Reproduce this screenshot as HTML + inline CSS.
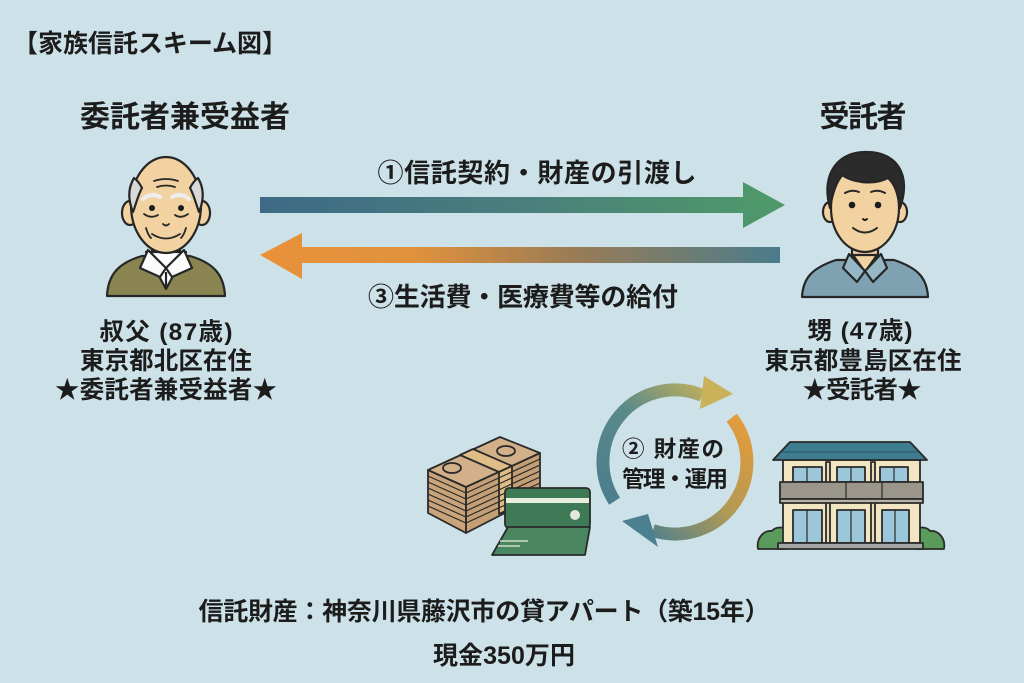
<!DOCTYPE html>
<html><head><meta charset="utf-8"><style>
html,body{margin:0;padding:0;background:#cde2e8;}
svg{display:block;}
text{font-family:"Liberation Sans","Noto Sans CJK JP",sans-serif;font-weight:bold;fill:#1c1c1c;}
</style></head><body>
<svg width="1024" height="683" viewBox="0 0 1024 683" xmlns="http://www.w3.org/2000/svg">
<defs>
<linearGradient id="a1" x1="260" y1="0" x2="785" y2="0" gradientUnits="userSpaceOnUse">
<stop offset="0" stop-color="#3d6a86"/><stop offset="0.5" stop-color="#4a7f7c"/><stop offset="1" stop-color="#4f9a68"/></linearGradient>
<linearGradient id="a2" x1="260" y1="0" x2="780" y2="0" gradientUnits="userSpaceOnUse">
<stop offset="0" stop-color="#e8923a"/><stop offset="0.3" stop-color="#e0913c"/><stop offset="0.6" stop-color="#9a7c55"/><stop offset="1" stop-color="#4a7c8c"/></linearGradient>
<linearGradient id="c1" x1="612" y1="505" x2="720" y2="390" gradientUnits="userSpaceOnUse">
<stop offset="0" stop-color="#4c7d8e"/><stop offset="0.5" stop-color="#5a8a88"/><stop offset="1" stop-color="#c9b25a"/></linearGradient>
<linearGradient id="c2" x1="735" y1="415" x2="630" y2="525" gradientUnits="userSpaceOnUse">
<stop offset="0" stop-color="#e39b3c"/><stop offset="0.5" stop-color="#b09a55"/><stop offset="1" stop-color="#4c7f8f"/></linearGradient>
</defs>
<rect width="1024" height="683" fill="#cde2e8"/>

<!-- title -->
<text x="13" y="52" font-size="25" textLength="274">【家族信託スキーム図】</text>
<text x="185" y="127" font-size="30" text-anchor="middle" textLength="210">委託者兼受益者</text>
<text x="863" y="127" font-size="30" text-anchor="middle" textLength="87">受託者</text>

<!-- arrows -->
<text x="537" y="182" font-size="26" text-anchor="middle" textLength="319">①信託契約・財産の引渡し</text>
<path d="M260,197 L743,197 L743,182 L785,205 L743,228 L743,213 L260,213 Z" fill="url(#a1)"/>
<path d="M780,247 L302,247 L302,233 L260,255 L302,279 L302,263 L780,263 Z" fill="url(#a2)"/>
<text x="523" y="306" font-size="26" text-anchor="middle" textLength="310">③生活費・医療費等の給付</text>

<!-- old man -->
<g stroke="#262626" stroke-width="2.2" stroke-linejoin="round">
<path d="M107,296 C108,275 118,263 142,256 L190,256 C214,263 224,275 225,296 Z" fill="#8a8450"/>
<rect x="152" y="236" width="28" height="24" fill="#f2d2a0"/>
<polygon points="146,252 186,252 166,289" fill="#ffffff"/>
<polygon points="148,250 140,268 160,277 166,268" fill="#fbfbfb"/>
<polygon points="184,250 192,268 172,277 166,268" fill="#fbfbfb"/>
<line x1="166" y1="272" x2="166" y2="289"/>
<ellipse cx="130" cy="213" rx="8" ry="12" fill="#f2d2a0"/>
<ellipse cx="202" cy="213" rx="8" ry="12" fill="#f2d2a0"/>
<ellipse cx="166" cy="205" rx="35" ry="48" fill="#f2d2a0"/>
<path d="M134,178 C128,188 128,200 133,212 C136,204 138,195 142,188 C140,184 137,180 134,178 Z" fill="#d8d8d8"/>
<path d="M198,178 C204,188 204,200 199,212 C196,204 194,195 190,188 C192,184 195,180 198,178 Z" fill="#d8d8d8"/>
</g>
<g stroke="#262626" stroke-width="1.8" fill="none" stroke-linecap="round">
<path d="M154,181 Q166,177 178,181"/>
<path d="M157,187 Q166,184 175,187"/>
<path d="M143,199 Q151,192 160,197" stroke="#eee" stroke-width="4"/>
<path d="M172,197 Q181,192 189,199" stroke="#eee" stroke-width="4"/>
<path d="M144,214 Q151,219 158,215"/>
<path d="M175,215 Q181,219 188,214"/>
<path d="M163,224 Q166,227 169,224"/>
<path d="M152,234 Q166,243 180,234"/>
<path d="M146,228 Q148,235 151,238"/>
<path d="M186,228 Q184,235 181,238"/>
</g>
<circle cx="152" cy="208" r="3" fill="#1c1c1c"/>
<circle cx="181" cy="208" r="3" fill="#1c1c1c"/>

<!-- young man -->
<g stroke="#262626" stroke-width="2.2" stroke-linejoin="round">
<path d="M802,297 C803,278 812,268 836,260 L894,260 C918,268 927,278 928,297 Z" fill="#7fa2b2"/>
<rect x="852" y="238" width="26" height="26" fill="#f2d2a0"/>
<polygon points="853,255 865,272 877,255" fill="#f2d2a0"/>
<polygon points="849,254 843,268 857,282 865,271" fill="#96b7c5"/>
<polygon points="881,254 887,268 873,282 865,271" fill="#96b7c5"/>
<ellipse cx="830" cy="212" rx="7" ry="10" fill="#f2d2a0"/>
<ellipse cx="900" cy="212" rx="7" ry="10" fill="#f2d2a0"/>
<ellipse cx="865" cy="208" rx="34" ry="44" fill="#f2d2a0"/>
<path d="M830,208 C820,172 840,151 867,152 C896,152 912,174 900,208 C898,194 895,184 888,178 C872,186 852,182 842,175 C835,184 832,196 830,208 Z" fill="#2b2b2b"/>
</g>
<g stroke="#262626" stroke-width="2" fill="none" stroke-linecap="round">
<path d="M845,193 Q852,189 859,192"/>
<path d="M871,192 Q878,189 885,193"/>
<path d="M863,219 Q865,221 867,219"/>
<path d="M853,228 Q865,237 877,228"/>
</g>
<circle cx="852" cy="205" r="3.3" fill="#1c1c1c"/>
<circle cx="878" cy="205" r="3.3" fill="#1c1c1c"/>

<!-- info texts -->
<text x="166" y="340" font-size="24.5" text-anchor="middle" textLength="133">叔父 (87歳)</text>
<text x="166" y="369" font-size="24.5" text-anchor="middle" textLength="172">東京都北区在住</text>
<text x="166" y="398" font-size="24.5" text-anchor="middle" textLength="222">★委託者兼受益者★</text>
<text x="860" y="339" font-size="24.5" text-anchor="middle" textLength="105">甥 (47歳)</text>
<text x="863" y="369" font-size="24.5" text-anchor="middle" textLength="197">東京都豊島区在住</text>
<text x="862" y="398" font-size="24.5" text-anchor="middle" textLength="119">★受託者★</text>

<!-- cycle -->
<path d="M614.6,501.2 A72,72 0 0 1 702,395.2" fill="none" stroke="url(#c1)" stroke-width="13"/>
<polygon points="704,376 700,409 733,394" fill="#c9b25a"/>
<path d="M731.7,417.7 A72,72 0 0 1 652.8,530.5" fill="none" stroke="url(#c2)" stroke-width="13"/>
<polygon points="648,514 658,547 622,521" fill="#4c7f8f"/>
<text x="673" y="457" font-size="22.5" text-anchor="middle" textLength="102">② 財産の</text>
<text x="675" y="487" font-size="22.5" text-anchor="middle" textLength="106">管理・運用</text>

<!-- money stack -->
<g stroke="#2a2a2a" stroke-width="1.8" stroke-linejoin="round">
<polygon points="428,470 466,487 466,533 428,513" fill="#c9a47a"/>
<polygon points="466,487 540,453 540,495 466,533" fill="#c49f75"/>
<polygon points="428,470 500,437 540,453 466,487" fill="#d2b08a"/>
<polygon points="460,455 473,449 512,466 499,472" fill="#e0bd86"/>
<polygon points="499,472 512,466 512,508 499,514" fill="#e0bd86"/>
<ellipse cx="452" cy="468" rx="9" ry="5" fill="none"/>
<ellipse cx="506" cy="451" rx="9" ry="5" fill="none"/>
</g>
<g stroke="#2a2a2a" stroke-width="1.2" fill="none">
<path d="M428,476 L466,493 L540,459"/>
<path d="M428,482 L466,499 L540,465"/>
<path d="M428,488 L466,505 L540,471"/>
<path d="M428,494 L466,511 L540,477"/>
<path d="M428,500 L466,517 L540,483"/>
<path d="M428,506 L466,523 L540,489"/>
</g>

<!-- card -->
<g stroke="#2a2a2a" stroke-width="1.8" stroke-linejoin="round">
<rect x="505" y="488" width="85" height="40" rx="4" fill="#3f7a57"/>
<polygon points="508,527 590,527 585,555 492,555" fill="#4a8660"/>
</g>
<rect x="506" y="498" width="83" height="5" fill="#e8ecdf"/>
<circle cx="575" cy="515" r="5" fill="#e3e8dc"/>
<line x1="500" y1="541" x2="528" y2="541" stroke="#cfe0c8" stroke-width="1.5"/>
<line x1="498" y1="546" x2="520" y2="546" stroke="#cfe0c8" stroke-width="1.5"/>

<!-- house -->
<g stroke="#2a2a2a" stroke-width="1.8" stroke-linejoin="round">
<path d="M758,549 C756,538 764,530 772,531 C776,526 784,527 786,530 L786,549 Z" fill="#5a9a5a"/>
<path d="M944,549 C946,538 938,530 930,531 C926,526 918,527 916,530 L916,549 Z" fill="#5a9a5a"/>
<rect x="783" y="460" width="137" height="83" fill="#f1e5c2"/>
<polygon points="773,460 790,442 910,442 927,460" fill="#3e7c90"/>
<rect x="793" y="467" width="29" height="15" fill="#9cc6da"/>
<rect x="837" y="467" width="28" height="15" fill="#9cc6da"/>
<rect x="880" y="467" width="28" height="15" fill="#9cc6da"/>
<rect x="826" y="462" width="4" height="81" fill="#e8dcb8"/>
<rect x="871" y="462" width="4" height="81" fill="#e8dcb8"/>
<rect x="780" y="482" width="143" height="17" fill="#9b968b"/>
<rect x="780" y="499" width="143" height="4" fill="#b8b3a6"/>
<rect x="793" y="510" width="29" height="33" fill="#9cc6da"/>
<rect x="837" y="510" width="28" height="33" fill="#9cc6da"/>
<rect x="882" y="510" width="27" height="33" fill="#9cc6da"/>
<rect x="778" y="543" width="145" height="6" fill="#a3a6a3"/>
</g>
<g stroke="#2a2a2a" stroke-width="1.2">
<line x1="807" y1="467" x2="807" y2="482"/><line x1="851" y1="467" x2="851" y2="482"/><line x1="894" y1="467" x2="894" y2="482"/>
<line x1="807" y1="510" x2="807" y2="543"/><line x1="851" y1="510" x2="851" y2="543"/><line x1="895" y1="510" x2="895" y2="543"/>
<line x1="782" y1="452" x2="918" y2="452" stroke="#2c6070"/>
<line x1="846" y1="482" x2="846" y2="499"/><line x1="882" y1="482" x2="882" y2="499"/>
</g>

<!-- bottom text -->
<text x="484" y="620" font-size="25" text-anchor="middle" textLength="571">信託財産：神奈川県藤沢市の貸アパート（築15年）</text>
<text x="504" y="664" font-size="25" text-anchor="middle" textLength="142">現金350万円</text>
</svg>
</body></html>
